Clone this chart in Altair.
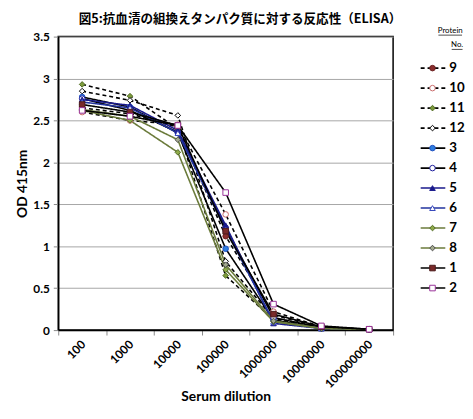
import altair as alt
import pandas as pd

dilutions = ["100", "1000", "10000", "100000", "1000000", "10000000", "100000000"]
series = ["9", "10", "11", "12", "3", "4", "5", "6", "7", "8", "1", "2"]

od_9 = [2.65, 2.58, 2.42, 1.12, 0.18, 0.03, 0.01]
od_10 = [2.60, 2.50, 2.45, 1.38, 0.22, 0.04, 0.01]
od_11 = [2.93, 2.79, 2.40, 0.65, 0.12, 0.02, 0.01]
od_12 = [2.85, 2.74, 2.56, 0.82, 0.14, 0.03, 0.01]
od_3 = [2.78, 2.66, 2.35, 0.97, 0.12, 0.02, 0.01]
od_4 = [2.76, 2.62, 2.36, 1.22, 0.15, 0.03, 0.01]
od_5 = [2.75, 2.68, 2.38, 1.25, 0.08, 0.02, 0.01]
od_6 = [2.72, 2.65, 2.35, 1.20, 0.10, 0.02, 0.01]
od_7 = [2.62, 2.50, 2.12, 0.72, 0.10, 0.02, 0.01]
od_8 = [2.63, 2.55, 2.27, 0.78, 0.11, 0.02, 0.01]
od_1 = [2.69, 2.60, 2.44, 1.18, 0.19, 0.04, 0.01]
od_2 = [2.62, 2.55, 2.44, 1.64, 0.31, 0.05, 0.01]

values = {"9": od_9, "10": od_10, "11": od_11, "12": od_12, "3": od_3, "4": od_4,
          "5": od_5, "6": od_6, "7": od_7, "8": od_8, "1": od_1, "2": od_2}

line_colors = ["#000000", "#000000", "#000000", "#000000", "#000000", "#000000",
               "#1a1a8c", "#22339e", "#6b7b3b", "#6b7b3b", "#000000", "#000000"]
dashes = [[4, 3]] * 4 + [[1, 0]] * 8
shapes = ["circle", "circle", "diamond", "diamond", "circle", "circle",
          "triangle-up", "triangle-up", "diamond", "diamond", "square", "square"]
fills = ["#8b2e2e", "#ffffff", "#7d9b3c", "#ffffff", "#2f7fe0", "#ffffff",
         "#1a1a8c", "#ffffff", "#8faa4a", "#a3aa8e", "#7a2a2a", "#ffffff"]
strokes = ["#6b1e1e", "#c86a6a", "#4f6a22", "#000000", "#1f4fbf", "#1a1a9a",
           "#1a1a8c", "#3344bb", "#4f6a22", "#4a4a4a", "#4a1a1a", "#993399"]

rows = []
for s in series:
    for i, v in enumerate(values[s]):
        rows.append({"series": s, "dil": dilutions[i], "xpos": i + 0.5, "od": v,
                     "sorder": series.index(s)})
df = pd.DataFrame(rows)

leg_df = pd.DataFrame({"series": series, "row": list(range(len(series)))})

FONT = "Lato"
label_arr = "[" + ",".join("'" + d + "'" for d in dilutions) + "]"

color_scale = alt.Scale(domain=series, range=line_colors)
dash_scale = alt.Scale(domain=series, range=dashes)
shape_scale = alt.Scale(domain=series, range=shapes)
fill_scale = alt.Scale(domain=series, range=fills)
stroke_scale = alt.Scale(domain=series, range=strokes)

PLOT_H = 298

x_enc = alt.X(
    "xpos:Q",
    scale=alt.Scale(domain=[0, 7], nice=False, zero=False),
    axis=alt.Axis(
        values=[k * 0.5 for k in range(15)],
        labelExpr="datum.value % 1 == 0.5 ? " + label_arr + "[floor(datum.value)] : ''",
        tickOpacity={"condition": {"test": "datum.value % 1 == 0", "value": 1}, "value": 0},
        grid=False, labelAngle=-45, labelAlign="right", labelBaseline="middle",
        labelPadding=7, labelOffset=1, tickSize=5, tickColor="#888888",
        domainColor="#000000", domainWidth=1.5,
        labelFont=FONT, labelFontSize=12, labelFontWeight="bold", labelColor="#000000",
        titleFont=FONT, titleFontSize=14, titleFontWeight="bold", titleColor="#000000",
        titlePadding=0, labelOverlap=False, labelFlush=False,
    ),
    title="Serum dilution",
)
y_enc = alt.Y(
    "od:Q",
    scale=alt.Scale(domain=[0, 3.5], nice=False),
    axis=alt.Axis(
        values=[k * 0.5 for k in range(8)], format="~g",
        grid=True, gridColor="#a6a6a6", gridWidth=1,
        tickSize=5, tickColor="#888888", domainColor="#000000", domainWidth=1.5,
        labelFont=FONT, labelFontSize=12, labelFontWeight="bold", labelColor="#000000",
        labelPadding=4,
        titleFont=FONT, titleFontSize=14, titleFontWeight="bold", titleColor="#000000",
        titlePadding=3,
    ),
    title="OD 415nm",
)

base = alt.Chart(df).encode(x=x_enc, y=y_enc)

lines = base.mark_line(strokeWidth=1.6).encode(
    color=alt.Color("series:N", scale=color_scale, legend=None),
    strokeDash=alt.StrokeDash("series:N", scale=dash_scale, legend=None),
    detail="series:N",
    order="xpos:Q",
)
points = base.mark_point(filled=True, size=32, strokeWidth=1, opacity=1).encode(
    shape=alt.Shape("series:N", scale=shape_scale, legend=None),
    fill=alt.Fill("series:N", scale=fill_scale, legend=None),
    stroke=alt.Stroke("series:N", scale=stroke_scale, legend=None),
    order="sorder:Q",
)

main = alt.layer(lines, points).properties(
    width=340, height=PLOT_H,
    view=alt.ViewBackground(stroke="#000000", strokeWidth=1.5, strokeOpacity=1),
)

row_px = 20.3
row0_px = 32
leg_lo = -row0_px / row_px
leg_hi = leg_lo + PLOT_H / row_px
leg_y = alt.Y("row:Q", scale=alt.Scale(domain=[leg_lo, leg_hi], reverse=True, nice=False, zero=False), axis=None)
leg_base = alt.Chart(leg_df).encode(y=leg_y)
leg_lines = leg_base.mark_rule(strokeWidth=1.6).encode(
    x=alt.value(20), x2=alt.value(45),
    color=alt.Color("series:N", scale=color_scale, legend=None),
    strokeDash=alt.StrokeDash("series:N", scale=dash_scale, legend=None),
)
leg_points = leg_base.mark_point(filled=True, size=32, strokeWidth=1, opacity=1).encode(
    x=alt.value(32),
    shape=alt.Shape("series:N", scale=shape_scale, legend=None),
    fill=alt.Fill("series:N", scale=fill_scale, legend=None),
    stroke=alt.Stroke("series:N", scale=stroke_scale, legend=None),
)
leg_text = leg_base.mark_text(align="left", baseline="middle", font=FONT, fontSize=13.5,
                              fontWeight="bold", color="#000000").encode(
    x=alt.value(49), text="series:N")

hdr1 = alt.Chart(pd.DataFrame({"t": ["Protein"]})).mark_text(
    align="center", baseline="middle", font=FONT, fontSize=8, color="#000000"
).encode(x=alt.value(50), y=alt.value(-6), text="t:N")
hdr2 = alt.Chart(pd.DataFrame({"t": ["No."]})).mark_text(
    align="center", baseline="middle", font=FONT, fontSize=8, color="#000000"
).encode(x=alt.value(57), y=alt.value(8.5), text="t:N")
ul1 = alt.Chart(pd.DataFrame({"t": ["Protein"]})).mark_rule(strokeWidth=0.7, color="#000000").encode(
    x=alt.value(38), x2=alt.value(62), y=alt.value(-1.5))
ul2 = alt.Chart(pd.DataFrame({"t": ["No."]})).mark_rule(strokeWidth=0.7, color="#000000").encode(
    x=alt.value(51.5), x2=alt.value(62.5), y=alt.value(13))

legend = alt.layer(leg_lines, leg_points, leg_text, hdr1, hdr2, ul1, ul2).properties(
    width=63, height=PLOT_H,
    view=alt.ViewBackground(strokeOpacity=0),
)

chart = alt.hconcat(main, legend, spacing=2).properties(
    title=alt.TitleParams(
        "図5:抗血清の組換えタンパク質に対する反応性（ELISA）",
        font="Noto Sans CJK JP", fontSize=12.75, fontWeight="bold", color="#000000",
        anchor="middle", offset=1, dx=0,
    ),
    padding={"left": 7, "top": 2, "right": 0, "bottom": -3},
).configure_view(strokeOpacity=0).configure(background="#ffffff")

chart.save("out.html", embed_options={"renderer": "svg", "actions": False})
